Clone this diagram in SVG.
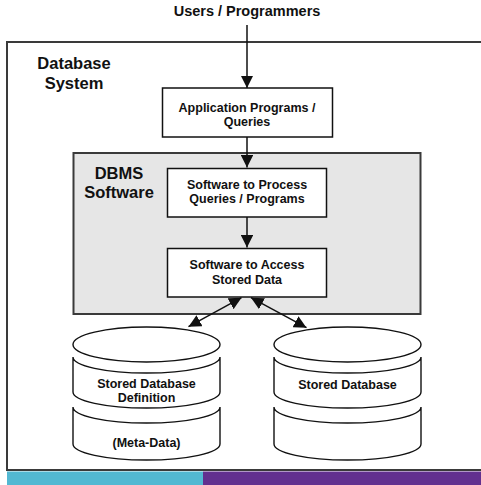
<svg xmlns="http://www.w3.org/2000/svg" width="481" height="485" viewBox="0 0 481 485">
<style>
text{font-family:"Liberation Sans",Arial,sans-serif;font-weight:bold;fill:#111;}
.t{font-size:12.5px;text-anchor:middle;}
.h{font-size:16.5px;text-anchor:middle;}
.box{fill:#fff;stroke:#111;stroke-width:1.5;}
.cyl{fill:#fff;stroke:#111;stroke-width:1.4;}
.conn{stroke:#111;stroke-width:1.5;fill:none;}
</style>
<defs>
<marker id="ah" viewBox="0 0 10 10" refX="10" refY="5" markerWidth="12.5" markerHeight="12.5" markerUnits="userSpaceOnUse" orient="auto-start-reverse">
<path d="M0,0 L10,5 L0,10 z" fill="#111"/>
</marker>
</defs>
<rect x="0" y="0" width="481" height="485" fill="#fff"/>
<g id="database-system">
<rect x="7" y="42" width="500" height="428" fill="#fff" stroke="#3a3a3a" stroke-width="2"/>
<text class="h" x="74" y="69">Database</text>
<text class="h" x="74" y="88.5">System</text>
</g>
<rect x="0" y="471.5" width="481" height="14" fill="#fff"/>
<rect x="7" y="471.5" width="196" height="14" fill="#52b8d2"/>
<rect x="203" y="471.5" width="278" height="14" fill="#62308f"/>
<g id="users">
<text x="247" y="16" style="font-size:14.5px;text-anchor:middle">Users / Programmers</text>
</g>
<g id="app-programs">
<rect class="box" x="162.5" y="88" width="170" height="49"/>
<text class="t" x="247" y="111.5">Application Programs /</text>
<text class="t" x="247" y="125.5">Queries</text>
</g>
<g id="dbms">
<rect x="73.5" y="153" width="347" height="161" fill="#e6e6e6" stroke="#3a3a3a" stroke-width="2"/>
<text class="h" x="119" y="178.5">DBMS</text>
<text class="h" x="119" y="197.5">Software</text>
</g>
<g id="process">
<rect class="box" x="167.5" y="168.5" width="159" height="48.5"/>
<text class="t" x="247" y="188.5">Software to Process</text>
<text class="t" x="247" y="203">Queries / Programs</text>
</g>
<g id="access">
<rect class="box" x="167.5" y="248.5" width="159" height="48.5"/>
<text class="t" x="247" y="269">Software to Access</text>
<text class="t" x="247" y="283.5">Stored Data</text>
</g>
<g id="stored-db-definition">
<path class="cyl" d="M73,407 A73.5,16 0 0 0 220,407 L220,444 A73.5,16 0 0 1 73,444 Z"/>
<path class="cyl" d="M73,357 A73.5,16 0 0 0 220,357 L220,392 A73.5,16 0 0 1 73,392 Z"/>
<ellipse class="cyl" cx="146.5" cy="344.5" rx="73.5" ry="17.5"/>
<text class="t" x="146.5" y="387.5">Stored Database</text>
<text class="t" x="146.5" y="402">Definition</text>
<text class="t" x="146.5" y="447">(Meta-Data)</text>
</g>
<g id="stored-db">
<path class="cyl" d="M274,407 A73.5,16 0 0 0 421,407 L421,444 A73.5,16 0 0 1 274,444 Z"/>
<path class="cyl" d="M274,357 A73.5,16 0 0 0 421,357 L421,392 A73.5,16 0 0 1 274,392 Z"/>
<ellipse class="cyl" cx="347.5" cy="344.5" rx="73.5" ry="17.5"/>
<text class="t" x="347.5" y="389">Stored Database</text>
</g>
<g id="connectors">
<line class="conn" x1="247" y1="25" x2="247" y2="88" marker-end="url(#ah)"/>
<line class="conn" x1="247" y1="137" x2="247" y2="167.5" marker-end="url(#ah)"/>
<line class="conn" x1="247" y1="217" x2="247" y2="247.5" marker-end="url(#ah)"/>
<line class="conn" x1="241.5" y1="297.7" x2="188.5" y2="326.7" marker-start="url(#ah)" marker-end="url(#ah)"/>
<line class="conn" x1="251" y1="297.7" x2="306.5" y2="327.7" marker-start="url(#ah)" marker-end="url(#ah)"/>
</g>
</svg>
